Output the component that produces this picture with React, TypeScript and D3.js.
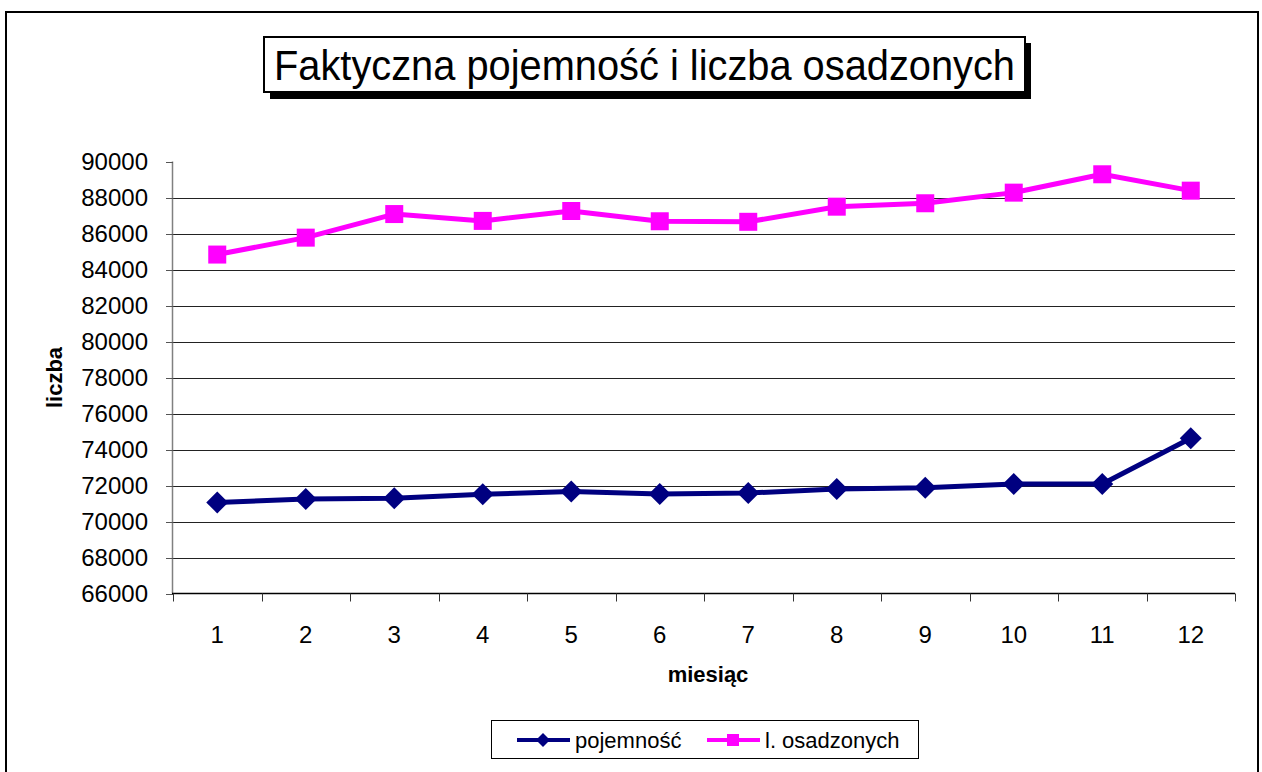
import React, { useRef, useEffect } from 'react';
import * as d3 from 'd3';

const months = ['1', '2', '3', '4', '5', '6', '7', '8', '9', '10', '11', '12'];
const pojemnosc = [71060, 71250, 71290, 71510, 71670, 71530, 71580, 71800, 71880, 72080, 72080, 74620];
const osadzonych = [84830, 85770, 87080, 86700, 87250, 86680, 86650, 87490, 87680, 88270, 89290, 88380];
const yTicks = [66000, 68000, 70000, 72000, 74000, 76000, 78000, 80000, 82000, 84000, 86000, 88000, 90000];
const seriesNames = ['pojemność', 'l. osadzonych'];

const FONT = 'Arial, "Liberation Sans", sans-serif';

const App = () => {
  const ref = useRef<SVGSVGElement>(null);
  useEffect(() => {
    const width = 1262;
    const height = 772;
    const svg = d3.select(ref.current);
    svg.selectAll('*').remove();
    svg.attr('width', width).attr('height', height).attr('viewBox', `0 0 ${width} ${height}`);

    svg.append('rect').attr('width', width).attr('height', height).attr('fill', '#fff');
    // outer chart border
    svg.append('rect').attr('x', 6).attr('y', 12).attr('width', 1252).attr('height', 800)
      .attr('fill', 'none').attr('stroke', '#000').attr('stroke-width', 2);

    // title with shadow
    svg.append('rect').attr('x', 270).attr('y', 43).attr('width', 761).attr('height', 56).attr('fill', '#000');
    svg.append('rect').attr('x', 264).attr('y', 37).attr('width', 761).attr('height', 55)
      .attr('fill', '#fff').attr('stroke', '#000').attr('stroke-width', 2);
    svg.append('text').attr('x', 274).attr('y', 80)
      .attr('textLength', 741).attr('lengthAdjust', 'spacingAndGlyphs')
      .style('font-family', FONT).style('font-size', '42px').text('Faktyczna pojemność i liczba osadzonych');

    const left = 173, right = 1235, top = 161.5, bottom = 593.5;
    const x = d3.scaleBand().domain(months).range([left, right]);
    const y = d3.scaleLinear().domain([66000, 90000]).range([bottom, top]);
    const cx = (i: number) => (x(months[i]) as number) + x.bandwidth() / 2;

    // gridlines
    svg.append('g').selectAll('line').data(yTicks.filter(t => t > 66000 && t < 90000)).join('line')
      .attr('x1', left).attr('x2', right).attr('y1', d => Math.round(y(d)) + 0.5).attr('y2', d => Math.round(y(d)) + 0.5)
      .attr('stroke', '#222').attr('stroke-width', 1);

    // y axis
    const yAxis = svg.append('g');
    yAxis.append('line').attr('x1', left - 0.5).attr('x2', left - 0.5).attr('y1', top).attr('y2', bottom)
      .attr('stroke', '#808080').attr('stroke-width', 1.5);
    yAxis.selectAll('line.tick').data(yTicks).join('line').attr('class', 'tick')
      .attr('x1', left - 7).attr('x2', left).attr('y1', d => Math.round(y(d)) + 0.5).attr('y2', d => Math.round(y(d)) + 0.5)
      .attr('stroke', '#555').attr('stroke-width', 1);
    yAxis.selectAll('text').data(yTicks).join('text')
      .attr('x', 148).attr('y', d => y(d)).attr('dy', '0.35em').attr('text-anchor', 'end')
      .style('font-family', FONT).style('font-size', '24px').text(d => String(d));

    // x axis
    const xAxis = svg.append('g');
    xAxis.append('line').attr('x1', left - 1).attr('x2', right).attr('y1', bottom).attr('y2', bottom)
      .attr('stroke', '#000').attr('stroke-width', 1.5);
    const bounds = months.map(m => x(m) as number).concat([right]);
    xAxis.selectAll('line.tick').data(bounds).join('line').attr('class', 'tick')
      .attr('x1', d => Math.round(d) + 0.5).attr('x2', d => Math.round(d) + 0.5).attr('y1', bottom).attr('y2', bottom + 8)
      .attr('stroke', '#333').attr('stroke-width', 1);
    xAxis.selectAll('text').data(months).join('text')
      .attr('x', (d, i) => cx(i)).attr('y', 643).attr('text-anchor', 'middle')
      .style('font-family', FONT).style('font-size', '24px').text(d => d);

    // axis titles
    svg.append('text').attr('x', 708).attr('y', 682).attr('text-anchor', 'middle')
      .style('font-family', FONT).style('font-size', '22px').style('font-weight', 'bold').text('miesiąc');
    svg.append('text').attr('transform', `translate(62,${(top + bottom) / 2}) rotate(-90)`).attr('text-anchor', 'middle')
      .style('font-family', FONT).style('font-size', '22px').style('font-weight', 'bold').text('liczba');

    const line = d3.line<number>().x((d, i) => cx(i)).y(d => y(d));
    const diamond = (s: number) => `M0,${-s}L${s},0L0,${s}L${-s},0Z`;

    // pojemność series
    svg.append('path').datum(pojemnosc).attr('d', line).attr('fill', 'none')
      .attr('stroke', '#000080').attr('stroke-width', 5).attr('stroke-linejoin', 'round');
    svg.append('g').selectAll('path').data(pojemnosc).join('path')
      .attr('transform', (d, i) => `translate(${cx(i)},${y(d)})`).attr('d', diamond(11)).attr('fill', '#000080');

    // l. osadzonych series
    svg.append('path').datum(osadzonych).attr('d', line).attr('fill', 'none')
      .attr('stroke', '#FF00FF').attr('stroke-width', 5).attr('stroke-linejoin', 'round');
    svg.append('g').selectAll('rect').data(osadzonych).join('rect')
      .attr('x', (d, i) => cx(i) - 9).attr('y', d => y(d) - 9).attr('width', 18).attr('height', 18).attr('fill', '#FF00FF');

    // legend
    const lg = svg.append('g');
    lg.append('rect').attr('x', 491.5).attr('y', 720.5).attr('width', 427).attr('height', 38)
      .attr('fill', '#fff').attr('stroke', '#000').attr('stroke-width', 1);
    const ly = 740;
    lg.append('line').attr('x1', 517).attr('x2', 570).attr('y1', ly).attr('y2', ly).attr('stroke', '#000080').attr('stroke-width', 4);
    lg.append('path').attr('transform', `translate(543,${ly})`).attr('d', diamond(7)).attr('fill', '#000080');
    lg.append('text').attr('x', 575).attr('y', ly).attr('dy', '0.35em')
      .style('font-family', FONT).style('font-size', '22px').text(seriesNames[0]);
    lg.append('line').attr('x1', 707).attr('x2', 760).attr('y1', ly).attr('y2', ly).attr('stroke', '#FF00FF').attr('stroke-width', 4);
    lg.append('rect').attr('x', 727).attr('y', ly - 6).attr('width', 12).attr('height', 12).attr('fill', '#FF00FF');
    lg.append('text').attr('x', 765).attr('y', ly).attr('dy', '0.35em')
      .style('font-family', FONT).style('font-size', '22px').text(seriesNames[1]);
  }, []);

  return (
    <div style={{ position: 'absolute', left: 0, top: 0 }}>
      <svg ref={ref} style={{ display: 'block' }} />
    </div>
  );
};

export default App;
